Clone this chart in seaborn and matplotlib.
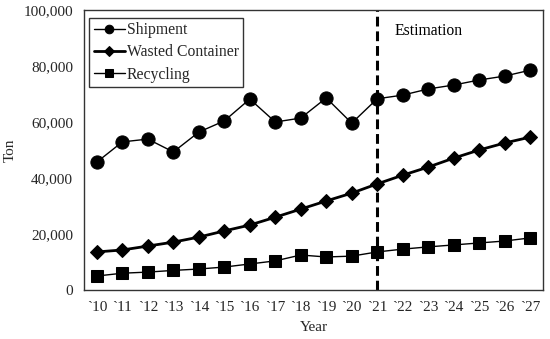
import pandas as pd
import matplotlib.pyplot as plt
import seaborn as sns

sns.set_theme(style="white")
plt.rcParams["font.family"] = ["Liberation Serif", "DejaVu Serif"]

years = ["`10", "`11", "`12", "`13", "`14", "`15", "`16", "`17", "`18",
         "`19", "`20", "`21", "`22", "`23", "`24", "`25", "`26", "`27"]

shipment = [45700, 52900, 53900, 49300, 56400, 60400, 68200, 60000, 61400,
            68600, 59600, 68300, 69600, 71800, 73200, 75000, 76400, 78500]
wasted = [13600, 14300, 15700, 17100, 18900, 21100, 23200, 26000, 28900,
          31800, 34600, 37900, 41000, 43900, 47100, 50000, 52500, 54600]
recycling = [5000, 6000, 6400, 7000, 7500, 8200, 9300, 10400, 12500,
             11800, 12100, 13600, 14600, 15400, 16100, 16800, 17500, 18600]

estimation_start = "`21"

df = pd.DataFrame({"year": years, "Shipment": shipment,
                   "Wasted Container": wasted, "Recycling": recycling})
df["pos"] = range(len(years))

fig = plt.figure(figsize=(5.5, 3.39), dpi=100)
ax = fig.add_axes([0.153, 0.1445, 0.834, 0.826])

# name, marker, markersize, linewidth
series = [
    ("Shipment", "o", 9.5, 1.0),
    ("Wasted Container", "D", 7.5, 2.0),
    ("Recycling", "s", 8.5, 1.0),
]
for name, marker, ms, lw in series:
    sns.lineplot(data=df, x="pos", y=name, ax=ax, color="black",
                 marker=marker, markersize=ms, linewidth=lw,
                 markeredgecolor="black", label=name)

xv = years.index(estimation_start)
ax.axvline(xv, color="black", linewidth=2.2, linestyle=(0, (3.2, 1.6)), zorder=1)
ax.text(xv + 0.7, 91000, "Estimation", fontsize=11.3, color="black")

ax.set_xlim(-0.5, len(years) - 0.5)
ax.set_ylim(0, 100000)
ax.set_xticks(df["pos"])
ax.set_xticklabels(years, fontsize=11)
ax.set_yticks(range(0, 100001, 20000))
ax.set_yticklabels([f"{v:,}" for v in range(0, 100001, 20000)], fontsize=11)
ax.tick_params(axis="both", length=0, pad=8)

ax.set_xlabel("Year", fontsize=11, labelpad=5)
ax.set_ylabel("Ton", fontsize=11)
ax.yaxis.set_label_coords(-0.148, 0.5)

for sp in ax.spines.values():
    sp.set_color("#333333")
    sp.set_linewidth(1.0)

leg = ax.legend(loc="upper left", bbox_to_anchor=(0.0, 0.99), fontsize=11.3,
                frameon=True, fancybox=False, handlelength=2.0, handletextpad=0.1,
                borderpad=0.3, labelspacing=0.4, borderaxespad=0.3,
                markerscale=0.65)
leg.get_frame().set_edgecolor("black")
leg.get_frame().set_linewidth(1.0)

fig.savefig("out.png", dpi=100)
plt.close()
